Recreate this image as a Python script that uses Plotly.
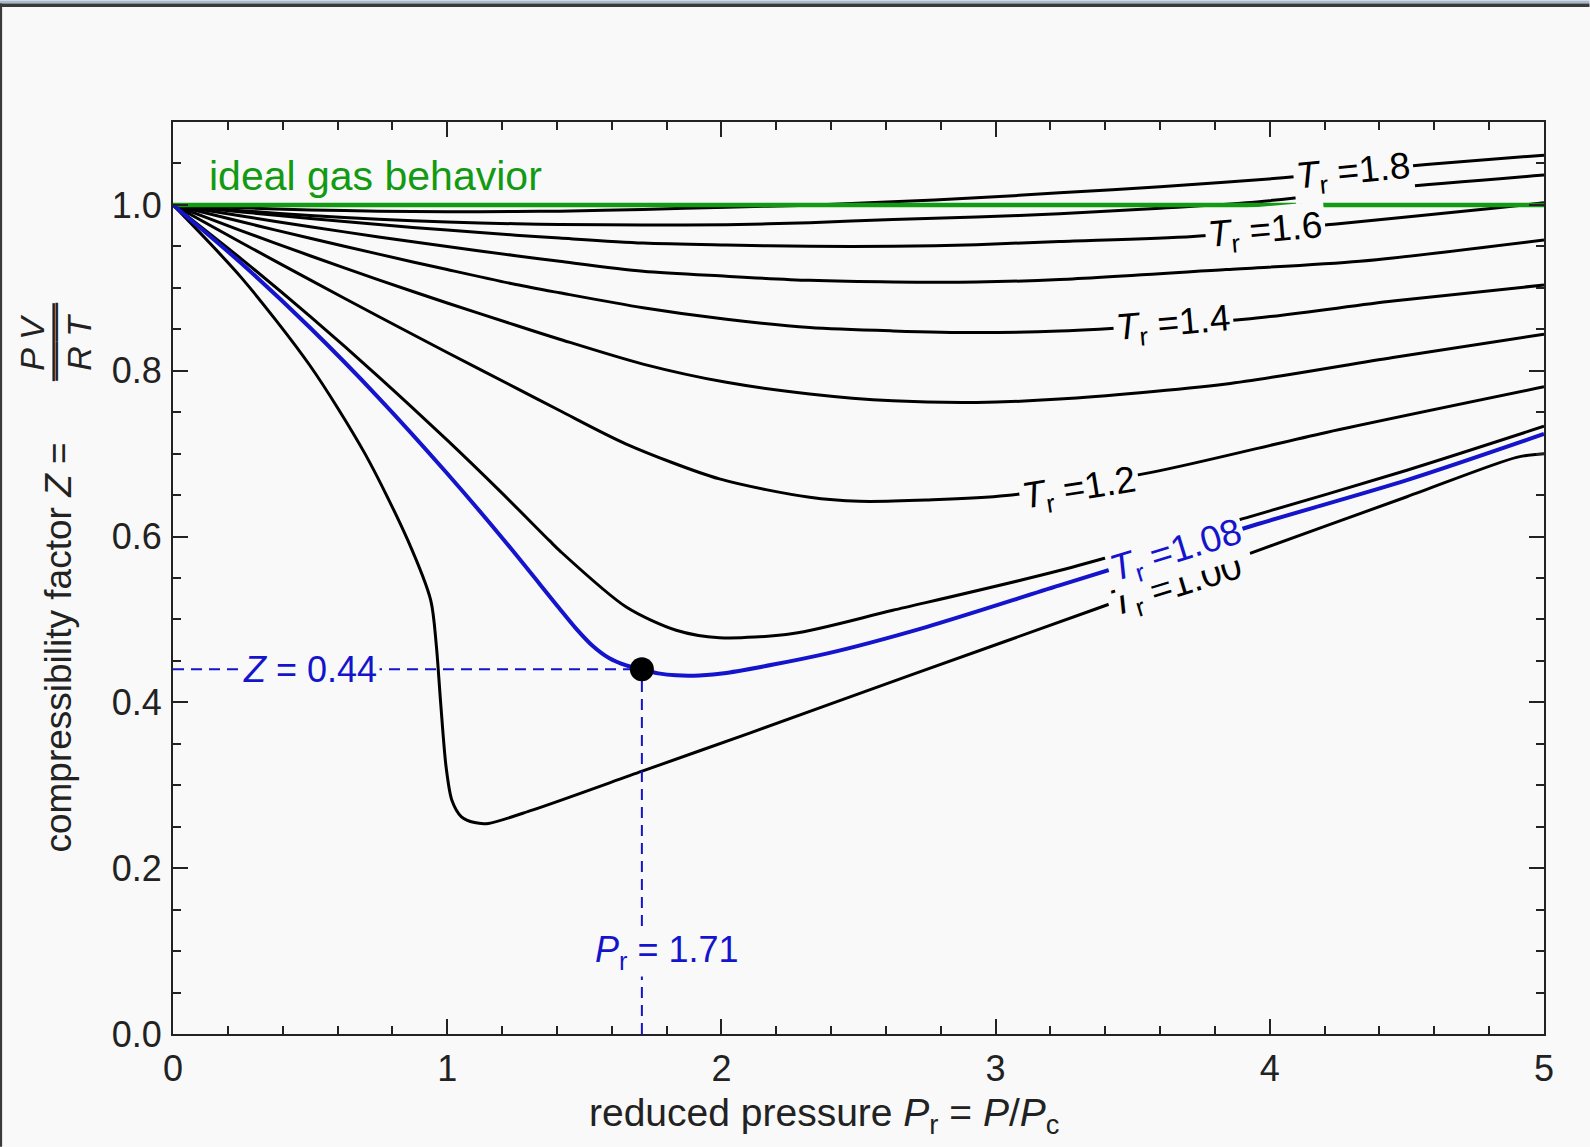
import plotly.graph_objects as go

# ---------------- data ----------------
pr_tr18 = [0, 0.25, 0.5, 0.75, 1.0, 1.25, 1.41, 1.714, 2.018, 2.322, 2.625, 2.93, 3.233, 3.6, 4.048, 4.571, 5.0]
z_tr18 = [1.0, 0.9966, 0.994, 0.9924, 0.9917, 0.992, 0.9925, 0.9946, 0.9973, 0.9997, 1.0037, 1.0085, 1.0146, 1.022, 1.0327, 1.0488, 1.060]

pr_tr17 = [0, 0.25, 0.5, 0.75, 1.0, 1.25, 1.41, 1.714, 2.018, 2.322, 2.625, 2.93, 3.233, 3.6, 3.914, 4.449, 5.0]
z_tr17 = [1.0, 0.993, 0.9872, 0.9827, 0.9794, 0.9772, 0.9765, 0.9757, 0.9762, 0.9785, 0.9825, 0.9853, 0.9893, 0.996, 1.0025, 1.0206, 1.036]

pr_tr16 = [0, 0.25, 0.5, 0.75, 1.0, 1.25, 1.41, 1.714, 2.018, 2.322, 2.625, 2.93, 3.233, 3.72, 4.242, 4.814, 5.0]
z_tr16 = [1.0, 0.9915, 0.9836, 0.9763, 0.9696, 0.9635, 0.960, 0.954, 0.9516, 0.950, 0.950, 0.952, 0.956, 0.962, 0.977, 0.996, 1.0025]

pr_tr15 = [0, 0.25, 0.5, 0.75, 1.0, 1.25, 1.41, 1.714, 2.018, 2.322, 2.625, 2.93, 3.233, 3.841, 4.328, 5.0]
z_tr15 = [1.0, 0.9866, 0.9737, 0.9614, 0.9498, 0.9388, 0.932, 0.920, 0.914, 0.909, 0.907, 0.907, 0.910, 0.922, 0.932, 0.9576]

pr_tr14 = [0, 0.25, 0.5, 0.75, 1.0, 1.25, 1.41, 1.714, 2.018, 2.322, 2.625, 2.93, 3.233, 3.908, 4.449, 5.0]
z_tr14 = [1.0, 0.9796, 0.9597, 0.9406, 0.922, 0.904, 0.894, 0.876, 0.862, 0.852, 0.848, 0.846, 0.848, 0.862, 0.884, 0.9034]

pr_tr13 = [0, 0.25, 0.5, 0.75, 1.0, 1.25, 1.41, 1.714, 2.018, 2.322, 2.625, 2.93, 3.233, 3.841, 4.449, 5.0]
z_tr13 = [1.0, 0.9688, 0.9387, 0.9096, 0.8817, 0.8548, 0.838, 0.808, 0.786, 0.772, 0.7637, 0.7617, 0.7658, 0.784, 0.816, 0.844]

pr_tr12 = [0, 0.25, 0.5, 0.75, 1.0, 1.25, 1.41, 1.653, 1.993, 2.322, 2.504, 2.747, 3.039, 3.568, 4.206, 5.0]
z_tr12 = [1.0, 0.9544, 0.9095, 0.8654, 0.822, 0.7794, 0.752, 0.7116, 0.6695, 0.6473, 0.6425, 0.644, 0.6494, 0.6774, 0.7256, 0.7806]

pr_tr11 = [0, 0.25, 0.5, 0.75, 1.0, 1.2, 1.373, 1.41, 1.653, 1.835, 1.993, 2.261, 2.625, 3.233, 3.938, 4.5, 5.0]
z_tr11 = [1.0, 0.9346, 0.8655, 0.7927, 0.7162, 0.6523, 0.595, 0.583, 0.515, 0.487, 0.478, 0.483, 0.511, 0.559, 0.625, 0.680, 0.733]

pr_tr108 = [0, 0.25, 0.5, 0.75, 1.0, 1.209, 1.41, 1.47, 1.531, 1.59, 1.653, 1.711, 1.77, 1.835, 1.92, 2.018, 2.383, 2.747, 3.233, 3.951, 4.5, 5.0]
z_tr108 = [1.0, 0.9293, 0.8518, 0.7674, 0.6761, 0.595, 0.513, 0.489, 0.468, 0.4535, 0.4445, 0.4395, 0.435, 0.4326, 0.4325, 0.4355, 0.4588, 0.4908, 0.541, 0.6145, 0.668, 0.7237]

pr_tr10 = [0, 0.25, 0.5, 0.7, 0.857, 0.94, 0.96, 0.976, 0.996, 1.017, 1.052, 1.10, 1.15, 1.31, 1.711, 2.103, 2.7, 3.36, 3.938, 4.5, 4.9, 5.0]
z_tr10 = [1.0, 0.912, 0.806, 0.700, 0.595, 0.523, 0.470, 0.400, 0.322, 0.282, 0.262, 0.255, 0.254, 0.270, 0.317, 0.363, 0.434, 0.512, 0.581, 0.648, 0.6955, 0.700]

ideal_pr = [0, 5]
ideal_z = [1.0, 1.0]

point_pr = 1.71
point_z = 0.44

x_tick_vals = [0, 1, 2, 3, 4, 5]
x_tick_text = ["0", "1", "2", "3", "4", "5"]
y_tick_vals = [0.0, 0.2, 0.4, 0.6, 0.8, 1.0]
y_tick_text = ["0.0", "0.2", "0.4", "0.6", "0.8", "1.0"]

# ---------------- style ----------------
W, H = 1590, 1147
L, R, T, B = 173.4, 1544.5, 121.7, 1034.3
BG = "#f9f9f9"
BLUE = "#1414cc"
GREEN = "#139a13"
INK = "#222222"
FONT = "Liberation Sans, Arial, sans-serif"


def px_x(px):
    return (px - L) / (R - L)


def px_y(py):
    return (B - py) / (B - T)


fig = go.Figure()

black_curves = [
    (pr_tr18, z_tr18), (pr_tr17, z_tr17), (pr_tr16, z_tr16), (pr_tr15, z_tr15),
    (pr_tr14, z_tr14), (pr_tr13, z_tr13), (pr_tr12, z_tr12), (pr_tr11, z_tr11),
    (pr_tr10, z_tr10),
]
for pr, z in black_curves:
    fig.add_trace(go.Scatter(x=pr, y=z, mode="lines",
                             line=dict(color="black", width=3, shape="spline", smoothing=0.8),
                             hoverinfo="skip", showlegend=False))

fig.add_trace(go.Scatter(x=ideal_pr, y=ideal_z, mode="lines",
                         line=dict(color=GREEN, width=4.5), showlegend=False))

fig.add_trace(go.Scatter(x=pr_tr108, y=z_tr108, mode="lines",
                         line=dict(color=BLUE, width=4, shape="spline", smoothing=0.8),
                         showlegend=False))

fig.add_trace(go.Scatter(x=[0, point_pr], y=[point_z, point_z], mode="lines",
                         line=dict(color=BLUE, width=2, dash="11px,7px"), showlegend=False))
fig.add_trace(go.Scatter(x=[point_pr, point_pr], y=[0, point_z], mode="lines",
                         line=dict(color=BLUE, width=2, dash="11px,7px"), showlegend=False))
fig.add_trace(go.Scatter(x=[point_pr], y=[point_z], mode="markers",
                         marker=dict(color="black", size=24), showlegend=False))

axis_common = dict(
    showgrid=False, zeroline=False, showline=True, linecolor=INK, linewidth=2,
    ticks="inside", ticklen=15, tickwidth=2, tickcolor=INK, mirror="allticks",
    tickfont=dict(family=FONT, size=36, color=INK),
)

fig.update_xaxes(range=[0, 5], tickvals=x_tick_vals, ticktext=x_tick_text,
                 minor=dict(ticks="inside", ticklen=8, tickwidth=2, tickcolor=INK, dtick=0.2, tick0=0),
                 ticklabelstandoff=2, **axis_common)
fig.update_yaxes(range=[0, 1.1], tickvals=y_tick_vals, ticktext=y_tick_text,
                 minor=dict(ticks="inside", ticklen=8, tickwidth=2, tickcolor=INK, dtick=0.05, tick0=0),
                 ticklabelstandoff=2, **axis_common)

annotations = []


def curve_label(x, y, text, angle, color="black"):
    annotations.append(dict(x=x, y=y, xref="x", yref="y", text=text, showarrow=False,
                            xanchor="center", yanchor="middle",
                            textangle=angle, bgcolor=BG, borderpad=2,
                            font=dict(family=FONT, size=37, color=color)))


curve_label(4.305, 1.038, "<i>T</i><sub>r</sub> =1.8", -5.5)
curve_label(3.983, 0.967, "<i>T</i><sub>r</sub> =1.6", -5)
curve_label(3.650, 0.855, "<i>T</i><sub>r</sub> =1.4", -5)
curve_label(3.306, 0.656, "<i>T</i><sub>r</sub> =1.2", -9)
curve_label(3.659, 0.539, "<i>T</i><sub>r</sub> =1.00", -17)
curve_label(3.661, 0.581, "<i>T</i><sub>r</sub> =1.08", -17, BLUE)

annotations.append(dict(x=px_x(207), y=1.035, xref="paper", yref="y", xanchor="left", yanchor="middle",
                        text="ideal gas behavior", showarrow=False,
                        font=dict(family=FONT, size=41, color=GREEN)))

annotations.append(dict(x=0.5, y=point_z, xref="x", yref="y", text="<i>Z</i> = 0.44",
                        xanchor="center", yanchor="middle",
                        showarrow=False, bgcolor=BG, borderpad=2,
                        font=dict(family=FONT, size=36, color=BLUE)))
annotations.append(dict(x=1.80, y=0.0985, xref="x", yref="y", text="<i>P</i><sub>r</sub> = 1.71",
                        xanchor="center", yanchor="middle", showarrow=False, bgcolor=BG, borderpad=1,
                        font=dict(family=FONT, size=36, color=BLUE)))

# axis titles
annotations.append(dict(x=px_x(824), y=px_y(1116), xref="paper", yref="paper",
                        xanchor="center", yanchor="middle",
                        text="reduced pressure <i>P</i><sub>r</sub> = <i>P</i>/<i>P</i><sub>c</sub>",
                        showarrow=False, font=dict(family=FONT, size=39, color=INK)))
annotations.append(dict(x=px_x(59), y=px_y(648), xref="paper", yref="paper", textangle=-90,
                        xanchor="center", yanchor="middle",
                        text="compressibility factor <i>Z</i> =",
                        showarrow=False, font=dict(family=FONT, size=37, color=INK)))
annotations.append(dict(x=px_x(33), y=px_y(342), xref="paper", yref="paper", textangle=-90,
                        xanchor="center", yanchor="middle",
                        text="<i>P V</i>", showarrow=False,
                        font=dict(family=FONT, size=34, color=INK)))
annotations.append(dict(x=px_x(80), y=px_y(342), xref="paper", yref="paper", textangle=-90,
                        xanchor="center", yanchor="middle",
                        text="<i>R T</i>", showarrow=False,
                        font=dict(family=FONT, size=34, color=INK)))
# fraction bar drawn as a rotated run of em dashes
annotations.append(dict(x=px_x(54), y=px_y(342), xref="paper", yref="paper", textangle=-90,
                        xanchor="center", yanchor="middle",
                        text="\u2014\u2014", showarrow=False,
                        font=dict(family=FONT, size=39, color=INK)))

shapes = [
    # fraction bar
    dict(type="rect", xref="paper", yref="paper", x0=px_x(52.8), x1=px_x(55.3),
         y0=px_y(381), y1=px_y(303), fillcolor=INK, line=dict(width=0), layer="above"),
    # window frame
    dict(type="rect", xref="paper", yref="paper", x0=px_x(0), x1=px_x(W), y0=px_y(0), y1=px_y(3),
         fillcolor="#a9b9cc", line=dict(width=0), layer="above"),
    dict(type="rect", xref="paper", yref="paper", x0=px_x(0), x1=px_x(W), y0=px_y(3), y1=px_y(6.5),
         fillcolor="#3a3a3a", line=dict(width=0), layer="above"),
    dict(type="rect", xref="paper", yref="paper", x0=px_x(0), x1=px_x(2.5), y0=px_y(3), y1=px_y(H),
         fillcolor="#3a3a3a", line=dict(width=0), layer="above"),
]

fig.update_layout(
    width=W, height=H, autosize=False,
    margin=dict(l=L, r=W - R, t=T, b=H - B, pad=0),
    paper_bgcolor=BG, plot_bgcolor=BG,
    showlegend=False,
    annotations=annotations, shapes=shapes,
    font=dict(family=FONT),
)

fig.write_html("out.html",
               config={"displayModeBar": False},
               post_script="document.body.style.margin='0';document.body.style.padding='0';"
                           "document.body.style.overflow='hidden';")
